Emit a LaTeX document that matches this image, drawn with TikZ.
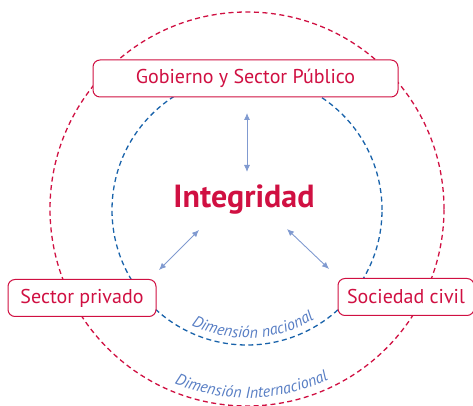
\documentclass[tikz,border=0pt]{standalone}
\usepackage{fontspec}
\setmainfont{PT Sans}
\usetikzlibrary{arrows.meta,decorations.text}
\definecolor{integred}{RGB}{208,16,66}
\definecolor{natblue}{RGB}{24,98,170}
\definecolor{arrowblue}{RGB}{128,154,208}
\definecolor{labelblue}{RGB}{88,126,196}
\tikzset{>={Latex[length=7pt,width=6pt]}}
\tikzset{
  sectorbox/.style={draw=integred, fill=white, line width=1pt, rounded corners=7pt,
    minimum height=37pt, inner sep=0pt, text=integred, font=\fontsize{20}{22}\selectfont},
  dimcircle/.style={line width=1.3pt, dash pattern=on 5pt off 3.5pt},
  dimlabel/.style={decorate, decoration={text along path, text align=center,
    text color=labelblue, text={#1}}},
  linkarrow/.style={arrowblue, line width=0.9pt, <->},
}

\begin{document}
\begin{tikzpicture}[x=1pt,y=1pt]
            \useasboundingbox (0,0) rectangle (473,406);
            % dimensions
            \draw[dimcircle, integred] (247,197) circle (197);
            \draw[dimcircle, natblue] (247,196) circle (135);
            {\fontsize{16}{16}\selectfont\itshape
            \path[dimlabel={Dimensión nacional}] ([shift={(247,196)}]236:128) arc[start angle=236, end angle=310, radius=128];
            \path[dimlabel={Dimensión Internacional}] ([shift={(247,197)}]238:189) arc[start angle=238, end angle=305, radius=189];
            }
            % sectors
            \node[sectorbox, minimum width=305pt] (gobierno) at (245.5,327.5) {Gobierno y Sector Público};
            \node[sectorbox, minimum width=148pt] (privado) at (82,108) {Sector privado};
            \node[sectorbox, minimum width=136pt] (civil) at (406,109) {Sociedad civil};
            \node[text=integred, font=\fontsize{32}{34}\selectfont\bfseries] (integridad) at (244,206) {Integridad};
            % links
            \coordinate (gob-a) at (247,293);
            \coordinate (gob-b) at (247,234);
            \coordinate (priv-a) at (199,176);
            \coordinate (priv-b) at (159,136);
            \coordinate (civ-a) at (287,177);
            \coordinate (civ-b) at (329,137);
            \draw[linkarrow] (gob-a) -- (gob-b);
            \draw[linkarrow] (priv-a) -- (priv-b);
            \draw[linkarrow] (civ-a) -- (civ-b);
        \end{tikzpicture}
\end{document}
